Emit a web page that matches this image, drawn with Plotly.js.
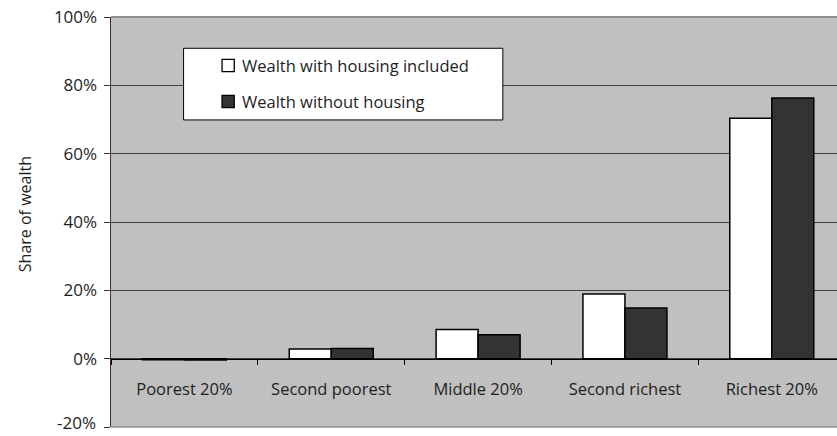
<!DOCTYPE html>
<html>
<head>
<meta charset="utf-8">
<script src="https://cdn.plot.ly/plotly-3.0.1.min.js"></script>
<style>
  html, body { margin: 0; padding: 0; background: #ffffff; }
  #chart { width: 837px; height: 436px; }
</style>
</head>
<body>
<div id="chart"></div>
<script>
// ---- data ----
const categories = ['Poorest 20%', 'Second poorest', 'Middle 20%', 'Second richest', 'Richest 20%'];
const seriesNames = ['Wealth with housing included', 'Wealth without housing'];
const withHousing = [-0.3, 2.8, 8.5, 18.9, 70.4];
const withoutHousing = [-0.4, 3.0, 7.0, 14.8, 76.3];
const yTickVals = [-20, 0, 20, 40, 60, 80, 100];
const yTickText = ['-20%', '0%', '20%', '40%', '60%', '80%', '100%'];
const yTitle = 'Share of wealth';

// ---- geometry (pixels) ----
const W = 837, Hgt = 436;
const L = 110.7, T = 17, PW = W - L, PH = 410.3;
const B = Hgt - T - PH;
const catWidth = 146.9;
const px2x = p => (p - L) / PW;
const py2y = p => (T + PH - p) / PH;

const FONT = '"Open Sans", "Noto Sans", sans-serif';
const TXT = '#1e1e1e';

const fills = ['#ffffff', '#333333'];
const values = [withHousing, withoutHousing];

const traces = values.map((v, i) => ({
  type: 'bar',
  x: categories,
  y: v,
  name: seriesNames[i],
  marker: { color: fills[i], line: { color: '#000000', width: 1.5 } },
  showlegend: false,
  hoverinfo: 'skip'
}));

// the lowest tick label sits at the very bottom edge: draw it as an annotation
// lifted just enough to stay inside the page; the others are normal tick labels
const lowIdx = 0;
const axisTickText = yTickText.map((t, i) => (i === lowIdx ? '' : t));

// custom legend: box, swatches, labels
const legendRows = [65.5, 101.5];
const shapes = [
  // plot frame top / bottom (grey)
  { type: 'line', xref: 'paper', yref: 'paper', x0: 0, x1: 1, y0: 1, y1: 1,
    line: { color: '#8f8f8f', width: 2 }, layer: 'above' },
  { type: 'line', xref: 'paper', yref: 'paper', x0: 0, x1: 1, y0: 0, y1: 0,
    line: { color: '#8f8f8f', width: 1.5 }, layer: 'above' },
  // legend box
  { type: 'rect', xref: 'paper', yref: 'paper',
    x0: px2x(183.3), x1: px2x(502.7), y0: py2y(120), y1: py2y(48.3),
    fillcolor: '#ffffff', line: { color: '#000000', width: 1 }, layer: 'above' }
];
const annotations = [];
legendRows.forEach((cy, i) => {
  shapes.push({
    type: 'rect', xref: 'paper', yref: 'paper',
    x0: px2x(221.8), x1: px2x(234), y0: py2y(cy + 6.1), y1: py2y(cy - 6.1),
    fillcolor: fills[i], line: { color: '#000000', width: 1.3 }, layer: 'above'
  });
  annotations.push({
    xref: 'paper', yref: 'paper', x: px2x(240), y: py2y(cy),
    xanchor: 'left', yanchor: 'middle', showarrow: false,
    text: seriesNames[i], font: { family: FONT, size: 16.5, color: TXT }
  });
});
annotations.push({
  xref: 'paper', yref: 'paper', x: px2x(25), y: py2y(214),
  xanchor: 'center', yanchor: 'middle', showarrow: false, textangle: -90,
  text: yTitle, font: { family: FONT, size: 16, color: TXT }
});
annotations.push({
  xref: 'paper', yref: 'paper', x: px2x(97), y: py2y(435.5),
  xanchor: 'right', yanchor: 'bottom', showarrow: false, borderpad: 0,
  text: yTickText[lowIdx], font: { family: FONT, size: 17, color: TXT }
});

const layout = {
  width: W, height: Hgt,
  margin: { l: L, r: 0, t: T, b: B, pad: 0 },
  paper_bgcolor: '#ffffff',
  plot_bgcolor: '#c0c0c0',
  font: { family: FONT, size: 16.5, color: TXT },
  barmode: 'group',
  bargap: 0.428,
  bargroupgap: 0,
  showlegend: false,
  xaxis: {
    type: 'category',
    range: [-0.5, -0.5 + PW / catWidth],
    anchor: 'free', position: 1 / 6,
    showline: true, linecolor: '#000000', linewidth: 1,
    ticks: 'outside', ticklen: 5, tickwidth: 1, tickcolor: '#000000',
    tickson: 'boundaries',
    showgrid: false, zeroline: false,
    tickfont: { family: FONT, size: 16.5, color: TXT },
    ticklabelstandoff: 16,
    ticklabeloverflow: 'allow',
    automargin: false, fixedrange: true
  },
  yaxis: {
    range: [-20, 100],
    tickmode: 'array', tickvals: yTickVals, ticktext: axisTickText,
    showline: true, linecolor: '#333333', linewidth: 1.5,
    ticks: 'outside', ticklen: 6, tickwidth: 1, tickcolor: '#333333',
    showgrid: true, gridcolor: '#404040', gridwidth: 1,
    zeroline: false,
    tickfont: { family: FONT, size: 17, color: TXT },
    ticklabelstandoff: 3,
    ticklabeloverflow: 'allow',
    automargin: false, fixedrange: true
  },
  shapes: shapes,
  annotations: annotations
};

Plotly.newPlot('chart', traces, layout, { displayModeBar: false, staticPlot: true });
</script>
</body>
</html>
